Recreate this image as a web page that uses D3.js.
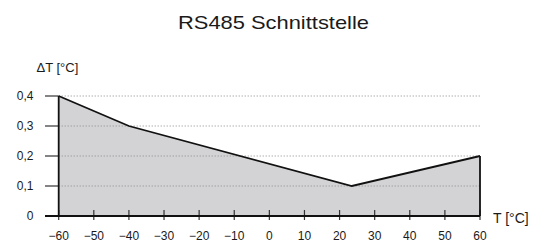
<!DOCTYPE html>
<html><head><meta charset="utf-8">
<script src="https://cdn.jsdelivr.net/npm/d3@7"></script>
<style>body{margin:0;background:#fff}svg{display:block}text{font-family:"Liberation Sans",Arial,sans-serif;fill:#1a1a1a}</style>
</head><body><svg id="c" width="542" height="242"></svg>
<script>
const temps = [-60, -40, 23.5, 60];
const deltas = [0.4, 0.3, 0.1, 0.2];
const xTicks = [-60,-50,-40,-30,-20,-10,0,10,20,30,40,50,60];
const yTicks = [0, 0.1, 0.2, 0.3, 0.4];
const yLabels = ["0","0,1","0,2","0,3","0,4"];
const title = "RS485 Schnittstelle";

const svg = d3.select("#c");
const x = d3.scaleLinear().domain([-60,60]).range([58.7,480]);
const y = d3.scaleLinear().domain([0,0.4]).range([216,96]);
const data = temps.map((t,i)=>({t, d:deltas[i]}));

// fill
svg.append("path").datum(data)
  .attr("d", d3.area().x(d=>x(d.t)).y0(y(0)).y1(d=>y(d.d)))
  .attr("fill","#d3d3d5");

// gridlines
svg.selectAll(".g").data(yTicks.filter(v=>v>0)).join("line")
  .attr("x1",x(-60)).attr("x2",x(60)).attr("y1",d=>y(d)).attr("y2",d=>y(d))
  .attr("stroke","#8a8a8a").attr("stroke-width",1).attr("stroke-dasharray","1,2");

// y ticks
svg.selectAll(".yt").data(yTicks).join("line")
  .attr("x1",45).attr("x2",x(-60)).attr("y1",d=>y(d)).attr("y2",d=>y(d))
  .attr("stroke","#333").attr("stroke-width",1.2);
svg.selectAll(".yl").data(yTicks).join("text")
  .attr("x",33.5).attr("y",d=>y(d)+4.3).attr("text-anchor","end")
  .attr("font-size",12).text((d,i)=>yLabels[i]);

// x ticks
svg.selectAll(".xt").data(xTicks).join("line")
  .attr("x1",d=>x(d)).attr("x2",d=>x(d)).attr("y1",210).attr("y2",220)
  .attr("stroke","#333").attr("stroke-width",1.2);
svg.selectAll(".xl").data(xTicks).join("text")
  .attr("x",d=>x(d)).attr("y",240).attr("text-anchor","middle")
  .attr("font-size",12).text(d=>d<0 ? "\u2212"+Math.abs(d) : String(d));

// axis lines
svg.append("line").attr("x1",45).attr("x2",x(60)).attr("y1",y(0)).attr("y2",y(0))
  .attr("stroke","#111").attr("stroke-width",1.8);
svg.append("line").attr("x1",x(-60)).attr("x2",x(-60)).attr("y1",y(0)).attr("y2",y(0.4))
  .attr("stroke","#111").attr("stroke-width",1.8);
svg.append("line").attr("x1",x(60)).attr("x2",x(60)).attr("y1",y(0)).attr("y2",y(deltas[deltas.length-1]))
  .attr("stroke","#111").attr("stroke-width",1.8);

// curve
svg.append("path").datum(data)
  .attr("d", d3.line().x(d=>x(d.t)).y(d=>y(d.d)))
  .attr("fill","none").attr("stroke","#111").attr("stroke-width",1.8);

// titles
svg.append("text").attr("x",178).attr("y",28.5)
  .attr("font-size",19).attr("textLength",191).attr("lengthAdjust","spacingAndGlyphs").text(title);
svg.append("text").attr("x",36.5).attr("y",71.5).attr("font-size",13).text("\u0394T [°C]");
svg.append("text").attr("x",493).attr("y",223).attr("font-size",14).text("T [°C]");
</script></body></html>
